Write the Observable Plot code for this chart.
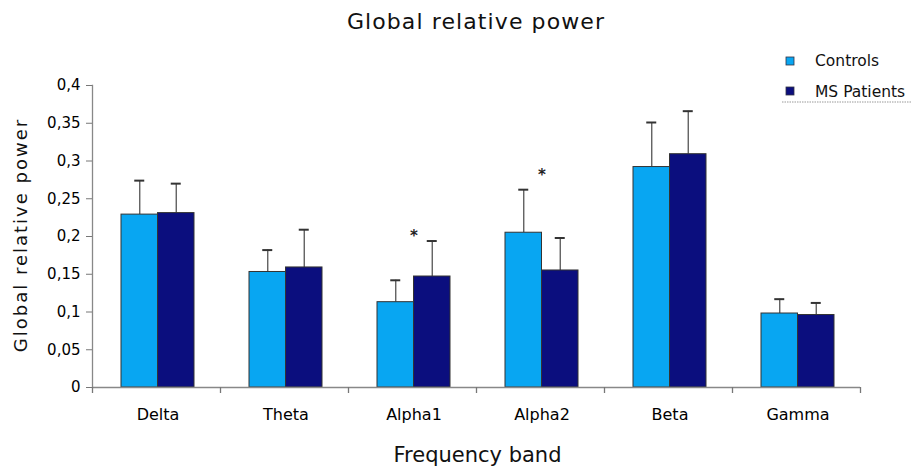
<!DOCTYPE html>
<html>
<head>
<meta charset="utf-8">
<script src="https://cdn.jsdelivr.net/npm/d3@7"></script>
<script src="https://cdn.jsdelivr.net/npm/@observablehq/plot@0.6"></script>
<style>
  body { margin: 0; background: #fff; }
  #chart { width: 914px; height: 468px; }
</style>
</head>
<body>
<div id="chart"></div>
<script>
// ---- data ----
const bands = ["Delta", "Theta", "Alpha1", "Alpha2", "Beta", "Gamma"];
const seriesNames = ["Controls", "MS Patients"];
const controls    = [0.229, 0.153, 0.113, 0.205, 0.292, 0.098];
const controlsErr = [0.045, 0.029, 0.029, 0.057, 0.059, 0.019];
const patients    = [0.231, 0.159, 0.147, 0.155, 0.309, 0.096];
const patientsErr = [0.039, 0.050, 0.047, 0.043, 0.057, 0.016];
const starBands   = ["Alpha1", "Alpha2"];
const starValues  = [0.206, 0.287];
const yTicks      = [0, 0.05, 0.1, 0.15, 0.2, 0.25, 0.3, 0.35, 0.4];
const colors      = ["#08a6f2", "#0b0e7e"];

// ---- layout ----
const W = 914, H = 468;
const mL = 92, mR = 54, mT = 85, mB = 81;
const step = (W - mL - mR) / bands.length;
const barW = 36.5, shift = 1.5, capW = 10;
const offsets = [-barW / 2 + shift, barW / 2 + shift];

const rows = [];
bands.forEach((b, i) => {
  rows.push({band: b, series: 0, value: controls[i], top: controls[i] + controlsErr[i]});
  rows.push({band: b, series: 1, value: patients[i], top: patients[i] + patientsErr[i]});
});
const stars = starBands.map((b, i) => ({band: b, y: starValues[i]}));

const font = "DejaVu Sans, Verdana, sans-serif";
const marks = [];
seriesNames.forEach((s, k) => {
  const d = rows.filter(r => r.series === k);
  marks.push(
    Plot.ruleX(d, {x: "band", y1: "value", y2: "top", dx: offsets[k], stroke: "#555", strokeWidth: 1.3}),
    Plot.tickY(d, {x: "band", y: "top", dx: offsets[k], insetLeft: (step - capW) / 2, insetRight: (step - capW) / 2, stroke: "#333", strokeWidth: 2}),
    Plot.barY(d, {x: "band", y: "value", dx: offsets[k], insetLeft: (step - barW) / 2, insetRight: (step - barW) / 2, fill: colors[k], stroke: "#333", strokeWidth: 1})
  );
});

const svg = Plot.plot({
  width: W, height: H,
  marginLeft: mL, marginRight: mR, marginTop: mT, marginBottom: mB,
  style: {fontFamily: font, background: "#fff"},
  x: {domain: bands, paddingInner: 0, paddingOuter: 0},
  y: {domain: [0, 0.4]},
  marks: [
    ...marks,
    Plot.text(stars, {x: "band", y: "y", text: () => "*", dx: 1.5, dy: 4, fontSize: 15, fill: "#222", fontWeight: "bold"}),
    Plot.ruleY([0], {stroke: "#888", strokeWidth: 1.3}),
    Plot.frame({anchor: "left", stroke: "#888", strokeWidth: 1.3}),
    Plot.ruleX(bands, {x: d => d, dx: -step / 2, y1: () => 0, y2: () => 0, insetBottom: -6, stroke: "#777", strokeWidth: 1.3}),
    Plot.ruleX(bands.slice(-1), {x: d => d, dx: step / 2, y1: () => 0, y2: () => 0, insetBottom: -6, stroke: "#777", strokeWidth: 1.3}),
    Plot.axisY({ticks: yTicks, tickFormat: d => String(+d.toFixed(2)).replace(".", ","), tickSize: 6, tickPadding: 6, fontSize: 15, stroke: "#777", fill: "#000", label: null}),
    Plot.axisX({tickSize: 0, tickPadding: 21, fontSize: 16, dx: shift, fill: "#000", label: null})
  ]
});

const g = d3.select(svg);
g.append("text").attr("x", 476).attr("y", 29).attr("text-anchor", "middle")
  .style("font", `22px ${font}`).style("letter-spacing", "1.1px").attr("fill", "#111")
  .text("Global relative power");
g.append("text").attr("transform", "translate(27,235) rotate(-90)").attr("text-anchor", "middle")
  .style("font", `18px ${font}`).style("letter-spacing", "2px").attr("fill", "#111")
  .text("Global relative power");
g.append("text").attr("x", 477.5).attr("y", 462).attr("text-anchor", "middle")
  .style("font", `21px ${font}`).attr("fill", "#111")
  .text("Frequency band");

// legend
const leg = g.append("g");
seriesNames.forEach((s, k) => {
  leg.append("rect").attr("x", 786).attr("y", 57 + k * 30).attr("width", 8).attr("height", 8)
    .attr("fill", colors[k]).attr("stroke", "#334").attr("stroke-width", 0.8);
  leg.append("text").attr("x", 815).attr("y", 66 + k * 30.5).attr("text-anchor", "start")
    .style("font", `15.5px ${font}`).attr("fill", "#111").text(s);
});
leg.append("line").attr("x1", 782).attr("x2", 912).attr("y1", 102).attr("y2", 102)
  .attr("stroke", "#999").attr("stroke-dasharray", "1.5,1");

document.getElementById("chart").appendChild(svg);
</script>
</body>
</html>
